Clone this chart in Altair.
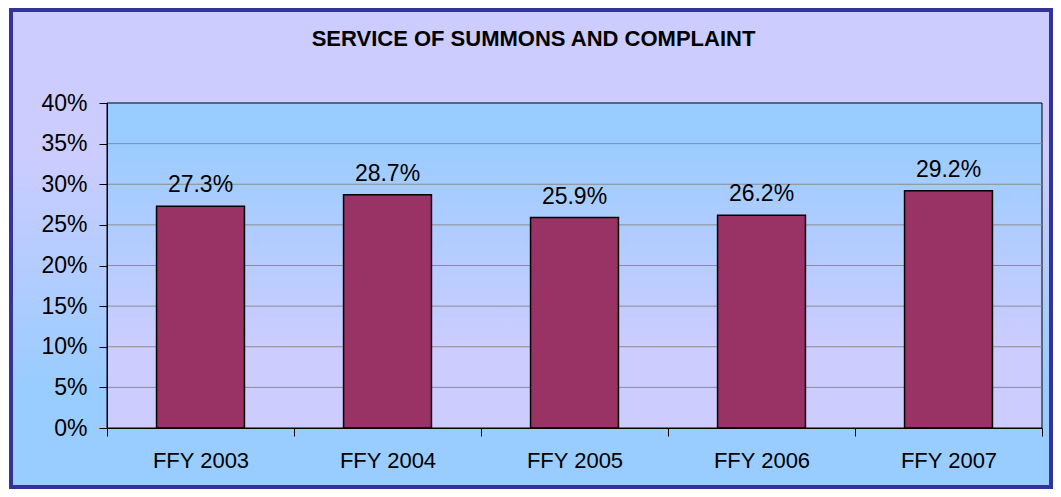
import altair as alt
import pandas as pd

categories = ["FFY 2003", "FFY 2004", "FFY 2005", "FFY 2006", "FFY 2007"]
values = [0.273, 0.287, 0.259, 0.262, 0.292]
grid_ticks = [0.05, 0.10, 0.15, 0.20, 0.25, 0.30, 0.35]
axis_ticks = [0.0, 0.05, 0.10, 0.15, 0.20, 0.25, 0.30, 0.35, 0.40]
title_text = "SERVICE OF SUMMONS AND COMPLAINT"

df = pd.DataFrame({"cat": categories, "val": values})
grid_df = pd.DataFrame({"g": grid_ticks})

W, H = 935, 325
FONT = "Liberation Sans"

xscale = alt.Scale(domain=categories, paddingInner=0, paddingOuter=0)
yscale = alt.Scale(domain=[0, 0.4], nice=False, zero=True)

yaxis = alt.Axis(values=axis_ticks, format=".0%", grid=False,
                 labelFont=FONT, labelFontSize=23, labelColor="black",
                 tickSize=8, tickColor="black", domainColor="black",
                 labelPadding=12, zindex=1)
xaxis = alt.Axis(labelAngle=0, labelFont=FONT, labelFontSize=22,
                 labelColor="black", tickBand="extent", tickSize=8,
                 tickColor="black", domainColor="black",
                 labelPadding=14, zindex=1)

outer_grad = alt.LinearGradient(
    gradient="linear", x1=0, y1=0, x2=0, y2=1,
    stops=[alt.GradientStop(color="#CCCCFF", offset=0),
           alt.GradientStop(color="#CCCCFF", offset=0.3),
           alt.GradientStop(color="#99CCFF", offset=0.8),
           alt.GradientStop(color="#99CCFF", offset=1)],
)
plot_grad = alt.LinearGradient(
    gradient="linear", x1=0, y1=0, x2=0, y2=1,
    stops=[alt.GradientStop(color="#99CCFF", offset=0),
           alt.GradientStop(color="#99CCFF", offset=0.1),
           alt.GradientStop(color="#CCCCFF", offset=0.75),
           alt.GradientStop(color="#CCCCFF", offset=1)],
)

one = alt.Data(values=[{"k": 1}])

outer = alt.Chart(one).mark_rect(
    fill=outer_grad, stroke="#333399", strokeWidth=4
).encode(
    x=alt.value(-96), x2=alt.value(944), y=alt.value(-93), y2=alt.value(384)
)

plotbg = alt.Chart(one).mark_rect(fill=plot_grad, stroke="black", strokeWidth=1).encode(
    x=alt.value(0), x2=alt.value(W), y=alt.value(0), y2=alt.value(H)
)

grid = alt.Chart(grid_df).mark_rule(color="#8C8C8C", strokeWidth=1).encode(
    y=alt.Y("g:Q", scale=yscale, axis=yaxis, title=None)
)

bars = alt.Chart(df).mark_bar(
    fill="#993366", stroke="black", strokeWidth=1.5,
    width=alt.RelativeBandSize(0.47)
).encode(
    x=alt.X("cat:N", scale=xscale, sort=categories, title=None, axis=xaxis),
    y=alt.Y("val:Q", scale=yscale, title=None, axis=yaxis),
)

labels = alt.Chart(df).mark_text(
    font=FONT, fontSize=23, color="black", baseline="alphabetic", dy=-14
).encode(
    x=alt.X("cat:N", scale=xscale, sort=categories, title=None, axis=xaxis),
    y=alt.Y("val:Q", scale=yscale, title=None, axis=yaxis),
    text=alt.Text("val:Q", format=".1%"),
)

title = alt.Chart(one).mark_text(
    text=title_text, font=FONT, fontSize=22, fontWeight="bold",
    color="black", baseline="alphabetic", align="center"
).encode(x=alt.value(426.5), y=alt.value(-57))

chart = alt.layer(outer, plotbg, grid, bars, labels, title).properties(
    width=W, height=H,
    autosize=alt.AutoSizeParams(type="none"),
    padding={"left": 99, "top": 95, "right": 11, "bottom": 61},
).configure_view(stroke=None).configure(background="white")

chart.save("out.html", embed_options={"renderer": "svg", "actions": False})
